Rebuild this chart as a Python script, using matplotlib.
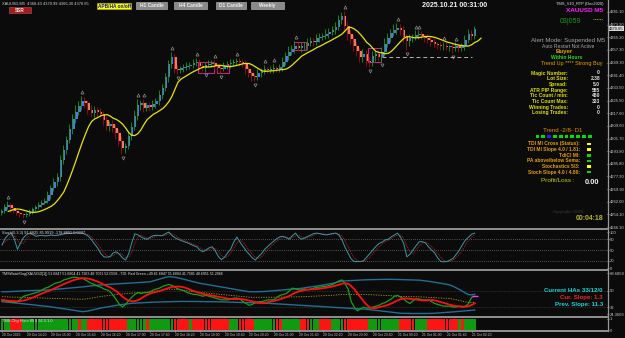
import numpy as np
import pandas as pd
import matplotlib
matplotlib.use("Agg")
import matplotlib.pyplot as plt
from matplotlib.patches import Rectangle
from matplotlib.lines import Line2D

plt.rcParams["font.family"] = ["Liberation Sans", "DejaVu Sans"]

W, H = 625, 338
BG = "#0b0b0b"
AXC = "#9a9a9a"

# ── data (XAUUSD M5) ────────────────────────────────────────────────────────
first_open = 4255.2
closes = [
    4256.0, 4258.5, 4260.2, 4257.8, 4256.5, 4255.0, 4254.2, 4253.6, 4254.5, 4255.8,
    4257.2, 4258.9, 4260.1, 4261.5, 4262.8, 4266.0, 4270.5, 4274.2, 4277.8, 4288.0,
    4294.5, 4301.0, 4307.5, 4314.0, 4318.5, 4322.0, 4325.5, 4324.0, 4319.5, 4318.0,
    4319.8, 4318.5, 4317.0, 4313.0, 4309.5, 4311.0, 4308.0, 4305.0, 4300.0, 4295.5,
    4297.0, 4303.5, 4309.0, 4316.0, 4322.5, 4324.0, 4321.0, 4322.8, 4321.5, 4323.5,
    4325.0, 4329.0, 4333.5, 4340.0, 4348.5, 4353.0, 4345.5, 4344.5, 4345.8, 4346.5,
    4347.5, 4348.0, 4348.8, 4349.5, 4347.5, 4346.2, 4347.8, 4348.5, 4349.2, 4347.0,
    4346.0, 4345.5, 4347.0, 4348.2, 4349.0, 4349.8, 4350.5, 4349.5, 4348.5, 4345.0,
    4342.5, 4341.0, 4340.2, 4342.5, 4344.0, 4345.0, 4344.5, 4345.5, 4346.0, 4345.5,
    4346.5, 4350.0, 4353.5, 4356.0, 4358.0, 4360.0, 4358.5, 4359.5, 4360.0, 4361.5,
    4363.0, 4362.5, 4364.5, 4365.5, 4366.0, 4367.5, 4368.5, 4370.0, 4371.5, 4376.0,
    4378.5, 4372.0, 4367.0, 4364.0, 4360.0, 4356.5, 4353.0, 4355.0, 4350.5, 4349.5,
    4353.5, 4354.5, 4353.0, 4356.0, 4361.0, 4365.0, 4368.0, 4370.0, 4371.0, 4369.5,
    4365.5, 4363.0, 4364.5, 4365.5, 4366.5, 4367.0, 4366.0, 4365.0, 4363.5, 4362.5,
    4361.0, 4360.5, 4359.5, 4360.0, 4359.0, 4359.0, 4358.5, 4359.5, 4358.5, 4359.8,
    4363.5, 4367.0, 4366.0, 4370.65,
]
wick_up = [
    1.5, 2.0, 2.5, 1.2, 1.0, 1.2, 1.5, 1.0, 1.3, 1.8,
    1.5, 1.2, 2.0, 1.5, 1.8, 2.5, 2.0, 3.0, 2.2, 3.5,
    3.0, 2.5, 3.5, 2.8, 4.0, 3.0, 2.9, 2.5, 2.0, 3.0,
    2.2, 1.8, 2.5, 2.0, 3.0, 1.5, 2.5, 2.0, 2.5, 3.0,
    2.0, 2.5, 3.0, 3.5, 4.0, 2.0, 2.5, 1.5, 2.0, 2.5,
    2.0, 3.0, 2.5, 3.0, 2.5, 3.0, 2.0, 2.5, 1.5, 2.0,
    2.0, 1.5, 2.5, 3.0, 2.0, 1.5, 2.0, 2.5, 1.5, 2.0,
    1.5, 2.0, 2.5, 2.0, 2.5, 1.5, 2.0, 1.5, 2.0, 2.5,
    2.0, 1.5, 2.0, 2.5, 2.0, 3.0, 1.5, 2.0, 2.5, 1.5,
    2.0, 3.0, 2.5, 3.5, 2.5, 3.0, 2.0, 2.5, 2.0, 3.0,
    2.5, 2.0, 3.0, 2.5, 2.0, 3.0, 2.5, 2.0, 3.0, 3.0,
    2.6, 3.0, 3.5, 2.5, 3.0, 2.5, 2.0, 3.0, 2.0, 2.5,
    3.0, 2.0, 2.5, 3.0, 3.5, 3.0, 2.5, 3.5, 3.0, 2.5,
    3.0, 2.0, 2.5, 2.0, 3.0, 2.5, 2.0, 1.5, 2.0, 2.5,
    2.0, 1.5, 2.0, 2.5, 2.0, 1.5, 2.0, 2.5, 1.5, 2.0,
    3.0, 3.5, 2.5, 1.5,
]
wick_dn = [
    1.5, 1.0, 1.2, 2.0, 1.5, 1.2, 1.5, 2.0, 1.0, 1.2,
    1.5, 1.0, 1.2, 1.5, 1.0, 1.5, 2.0, 1.5, 2.0, 2.5,
    2.0, 2.5, 2.0, 3.0, 2.5, 2.0, 2.5, 3.0, 2.5, 2.0,
    2.5, 3.0, 2.0, 3.0, 2.5, 3.0, 2.0, 3.5, 3.0, 3.5,
    3.1, 2.0, 2.5, 2.0, 2.5, 3.0, 2.5, 2.0, 2.5, 2.0,
    2.5, 2.0, 2.5, 2.0, 3.0, 2.5, 3.0, 2.5, 2.0, 2.5,
    2.0, 2.5, 2.0, 1.5, 2.5, 2.0, 2.5, 1.5, 2.0, 2.5,
    2.0, 2.5, 1.5, 2.0, 2.5, 1.5, 2.0, 2.5, 2.0, 3.0,
    2.5, 3.0, 2.5, 2.0, 2.5, 2.0, 1.5, 2.0, 2.5, 2.0,
    2.0, 2.5, 2.0, 2.5, 2.0, 2.5, 2.0, 2.5, 2.0, 2.5,
    2.0, 2.5, 2.0, 2.5, 2.0, 2.0, 2.5, 2.0, 2.5, 2.0,
    2.5, 3.0, 3.5, 3.0, 3.5, 3.0, 3.5, 3.0, 3.0, 2.9,
    2.5, 3.0, 2.5, 3.0, 2.5, 2.0, 2.5, 2.0, 2.5, 3.0,
    3.5, 6.0, 3.0, 2.5, 2.0, 2.5, 2.0, 2.5, 2.0, 2.5,
    2.0, 2.5, 2.0, 2.5, 2.0, 2.5, 3.0, 2.0, 2.5, 2.0,
    2.5, 2.0, 2.5, 2.0,
]
stoch_k = [
    64, 82, 92, 97, 80, 52, 70, 85, 93, 97,
    93, 88, 90, 91, 89, 90, 92, 90, 91, 93,
    95, 97, 96, 97, 98, 97, 97, 93, 88, 78,
    66, 55, 40, 31, 30, 32, 42, 45, 38, 28,
    22, 40, 70, 95, 92, 86, 82, 80, 86, 90,
    91, 90, 90, 96, 100, 90, 84, 80, 76, 73,
    70, 66, 62, 59, 50, 45, 50, 56, 59, 48,
    32, 23, 30, 42, 52, 72, 86, 72, 60, 48,
    38, 28, 22, 32, 40, 52, 60, 68, 75, 82,
    87, 88, 84, 80, 90, 97, 85, 80, 84, 88,
    92, 96, 97, 95, 93, 92, 94, 96, 97, 92,
    78, 58, 41, 25, 18, 18, 18, 20, 30, 40,
    50, 60, 68, 72, 78, 80, 87, 92, 97, 85,
    68, 31, 38, 50, 62, 73, 73, 70, 59, 50,
    42, 28, 18, 17, 18, 22, 27, 38, 50, 65,
    78, 86, 94, 97,
]
tdi_green = [
    40, 39, 38, 38, 37, 38, 41, 44, 45, 46,
    47, 48, 49, 51, 53, 54, 56, 58, 59, 60,
    62, 63, 64, 65, 65, 64, 64, 62, 60, 58,
    57, 55, 54, 52, 51, 49, 45, 40, 35, 32,
    35, 39, 43, 46, 48, 47, 48, 48, 49, 51,
    52, 53, 55, 56, 57, 56, 54, 52, 51, 50,
    48, 47, 46, 46, 45, 44, 45, 44, 43, 42,
    41, 40, 40, 40, 41, 42, 42, 41, 38, 36,
    34, 35, 37, 38, 38, 39, 40, 40, 40, 43,
    45, 46, 47, 50, 53, 52, 51, 51, 52, 51,
    52, 53, 54, 54, 55, 55, 56, 57, 59, 61,
    62, 58, 52, 38, 32, 28, 30, 32, 31, 31,
    32, 33, 34, 36, 37, 39, 41, 44, 45, 43,
    41, 38, 36, 39, 41, 41, 40, 40, 40, 38,
    36, 35, 34, 33, 33, 33, 32, 32, 33, 32,
    33, 36, 43, 44,
]
band_up = [
    49.0, 49.0, 49.0, 49.2, 49.4, 49.6, 49.8, 50.0, 50.1, 50.2, 50.3, 50.4, 50.5, 50.6, 50.8, 50.9,
    51.2, 51.5, 51.8, 52.1, 52.4, 52.7, 53.0, 53.3, 53.6, 54.0, 54.3, 54.7, 55.0, 55.4, 55.8, 56.2,
    56.5, 56.8, 57.0, 57.2, 57.5, 57.7, 57.9, 58.1, 58.3, 58.5, 58.7, 58.9, 59.1, 59.3, 59.5, 59.7, 60.0,
    61.0, 62.0, 63.0, 64.0, 65.0, 65.6,
    65.4, 65.0, 64.3, 63.5, 62.6, 61.7, 60.8, 60.0, 59.2, 58.3,
    57.8, 57.2, 56.6, 56.0, 55.4, 54.8, 54.2, 53.6, 53.0, 52.4, 51.8, 51.2, 50.6, 50.0, 49.5, 49.0,
    48.9, 48.9, 49.0, 49.1, 49.3, 49.5, 49.8, 50.1, 50.4, 50.7, 50.9,
    51.3, 51.6, 52.0, 52.3, 52.6, 52.8,
    53.3, 53.8, 54.3, 54.8, 55.3, 55.8, 56.4, 57.0, 57.6, 58.3, 59.0, 59.8, 60.8,
    61.0, 61.2, 61.4, 61.6, 61.8, 62.0, 62.1, 62.2, 62.3, 62.4, 62.5, 62.6, 62.7, 62.7,
    62.7, 62.6, 62.6, 62.5, 62.4, 62.3, 62.2, 62.1, 62.0, 62.0, 61.8,
    61.4, 61.0, 60.5, 60.0, 59.5, 59.0, 58.4, 57.8, 57.1, 56.4,
    55.0, 53.3, 51.5, 49.5, 47.5, 45.8, 45.6, 46.2,
]
band_dn = [
    38.0, 37.7, 37.4, 37.0, 36.7, 36.3, 36.0, 35.6, 35.3, 34.9, 34.5, 34.2, 33.8, 33.4, 33.0, 32.7,
    32.2, 31.7, 31.2, 30.7, 30.2, 29.6, 29.1, 28.6, 28.0, 27.5, 27.0,
    27.3, 27.8, 28.6, 29.5, 30.3,
    31.0, 31.6, 32.2, 32.8, 33.4, 34.0, 34.5, 35.0, 35.4, 35.8, 36.2,
    36.4, 36.6, 36.8, 37.0, 37.2, 37.4, 37.5, 37.6, 37.7, 37.8, 38.0,
    38.1, 38.2, 38.2, 38.3, 38.3, 38.3, 38.3, 38.2, 38.2, 38.2, 38.1, 38.1, 38.0, 38.0, 38.0, 38.0,
    37.9, 37.8, 37.7, 37.6, 37.5, 37.4, 37.3, 37.2, 37.1, 37.0, 36.9, 36.8, 36.7, 36.6, 36.5, 36.3, 36.2,
    36.0, 35.8, 35.6, 35.4, 35.2, 35.0, 34.8, 34.6, 34.4, 34.3,
    34.1, 33.9, 33.6, 33.4, 33.2, 33.0, 32.7, 32.5, 32.3, 32.0, 31.8,
    31.6, 31.4, 31.2, 31.0, 30.8, 30.6, 30.4, 30.2, 30.0, 29.8, 29.6,
    29.2, 28.8, 28.4, 28.0, 27.6, 27.2, 26.8, 26.4, 26.0, 25.6, 25.2,
    25.1, 25.0, 25.0, 24.9, 24.9, 24.9, 24.9, 25.0, 25.0, 25.1, 25.2,
    25.5, 25.7, 26.0, 26.2, 26.5, 26.7, 27.0,
    27.3, 27.6, 27.9, 28.2, 28.5, 28.8,
]
# histogram colour runs: (colour, number of bars)
histo_runs = [("g", 3), ("r", 4), ("g", 18), ("r", 1), ("g", 2), ("r", 13), ("g", 6),
              ("r", 1), ("g", 8), ("r", 5), ("g", 1), ("r", 12), ("g", 3), ("r", 5),
              ("g", 7), ("r", 2), ("g", 6), ("r", 3), ("g", 3), ("r", 4), ("g", 4),
              ("r", 8), ("g", 10), ("r", 5), ("g", 4), ("r", 10), ("g", 1), ("r", 1),
              ("g", 4)]
# magenta boxes: (first bar, last bar, low, high)
boxes = [(64, 68, 4342.8, 4349.7), (70, 73, 4342.8, 4347.8),
         (95, 98, 4357.2, 4362.2), (119, 122, 4350.0, 4358.5)]
dash_level = (123, 152, 4352.6)

time_labels = ["20 Oct 2025", "20 Oct 14:20", "20 Oct 15:00", "20 Oct 15:40", "20 Oct 16:20",
               "20 Oct 17:00", "20 Oct 17:40", "20 Oct 18:20", "20 Oct 19:00", "20 Oct 19:40",
               "20 Oct 20:20", "20 Oct 21:00", "20 Oct 21:40", "20 Oct 22:20", "20 Oct 23:00",
               "20 Oct 23:40", "21 Oct 00:20", "21 Oct 01:00", "21 Oct 01:40", "21 Oct 02:20"]
bars_per_label = 8
price_ticks = [4381.10, 4373.20, 4365.20, 4357.30, 4349.30, 4341.40, 4333.50, 4325.50,
               4317.60, 4309.60, 4301.70, 4293.80, 4285.80, 4277.90, 4269.90, 4262.00,
               4254.10, 4246.10]
stoch_ticks = [100, 80, 50, 20, 0]
tms_ticks = [69.6858, 50, 32, 24.3603]
tms_tick_labels = ["69.6858", "50", "32", "24.3603"]

info_labels = ["Magic Number:", "Lot Size:", "Spread:", "ATR PIP Range:", "Tic Count / min:",
               "Tic Count Max:", "Winning Trades:", "Losing Trades:"]
info_values = ["0", "2.38", "5.0", "555", "450", "333", "0", "0"]
trend_squares = ["#00dd00", "#00dd00", "#2222ff", "#00dd00", "#00dd00",
                 "#00dd00", "#00dd00", "#00dd00", "#00dd00", "#00dd00"]
status_labels = ["TDI MI Cross (Status):", "TDI MI Slope 4.0 / 1.81:", "TdiCl MI:",
                 "PA above/below Sema:", "Stochastics 5/3:", "Stoch Slope 4.0 / 4.80:"]
status_colors = ["#ffff00", "#ffff00", "#00dd00", "#00dd00", "#ffff00", "#00dd00"]

N = len(closes)
for arr in (wick_up, wick_dn, stoch_k, tdi_green, band_up, band_dn):
    assert len(arr) == N, len(arr)

# ── derived series ──────────────────────────────────────────────────────────
x = np.arange(N)
c = np.array(closes)
o = np.r_[first_open, c[:-1]]
hi = np.maximum(o, c) + np.array(wick_up)
lo = np.minimum(o, c) - np.array(wick_dn)
up = c >= o
ema = pd.Series(c).ewm(span=8, adjust=False).mean().values
stoch_d = pd.Series(stoch_k).rolling(3, min_periods=1).mean().values
tdi_red = pd.Series(tdi_green).rolling(7, min_periods=1).mean().values
mid = (np.array(band_up) + np.array(band_dn)) / 2
histo_cols = []
for col, n in histo_runs:
    histo_cols += ["#109a10" if col == "g" else "#ff1414"] * n

# ── figure ──────────────────────────────────────────────────────────────────
fig = plt.figure(figsize=(W / 100, H / 100), dpi=100, facecolor=BG)
XR = 607
XLIM = (-0.65, (XR - 2) / 3.08 - 0.65)


def px_axes(y0, y1):
    ax = fig.add_axes([0, 1 - y1 / H, XR / W, (y1 - y0) / H])
    ax.set_facecolor(BG)
    for s in ax.spines.values():
        s.set_visible(False)
    ax.set_xlim(*XLIM)
    ax.yaxis.tick_right()
    ax.tick_params(axis="y", colors="#c8c8c8", labelsize=3, length=1.5, width=0.5, pad=0.8)
    ax.tick_params(axis="x", bottom=False, labelbottom=False)
    return ax


def ftext(xp, yp, s, **kw):
    kw.setdefault("va", "center")
    fig.text(xp / W, 1 - yp / H, s, **kw)


# main price panel
ax = px_axes(0, 228)
ax.set_ylim(4245.55, 4388.6)
ax.set_yticks(price_ticks)
ax.set_yticklabels([f"{p:.2f}" for p in price_ticks])
ax.vlines(x - 0.35, lo, hi, colors=np.where(up, "#1a9a1a", "#a01010"), lw=0.6)
body = np.maximum(np.abs(c - o), 0.5)
ax.bar(x + 0.08, body, bottom=np.minimum(o, c), width=0.78,
       color=np.where(up, "#4a7ae6", "#f5785a"), linewidth=0)
ax.plot(x + 2, ema, color="#e6e600", lw=0.9)
for i in range(2, N - 2):
    if hi[i] == hi[i - 2:i + 3].max():
        ax.plot(i, hi[i] + 2.4, marker="^", ms=2.2, mfc="none", mec="#8c8c8c", mew=0.5)
    if lo[i] == lo[i - 2:i + 3].min():
        ax.plot(i, lo[i] - 2.4, marker="v", ms=2.2, mfc="none", mec="#8c8c8c", mew=0.5)
for b0, b1, l, h in boxes:
    ax.add_patch(Rectangle((b0 - 0.5, l), b1 - b0 + 1, h - l, fill=False,
                           ec="#d81c8c", lw=0.7))
ax.hlines(dash_level[2], dash_level[0], dash_level[1], colors="#b4b4b4",
          lw=0.7, linestyles=(0, (4, 3)))
ax.text(1.003, c[-1], f"{c[-1]:.2f}", transform=ax.get_yaxis_transform(),
        fontsize=3, color="#000000", va="center", ha="left",
        bbox=dict(boxstyle="square,pad=0.15", fc="#d8d8d8", ec="none"))

# stochastic panel
ax_s = px_axes(230, 268)
ax_s.set_ylim(0, 105.6)
ax_s.set_yticks(stoch_ticks)
ax_s.set_yticklabels([str(v) for v in stoch_ticks])
for lvl in (80, 50, 20):
    ax_s.axhline(lvl, color="#9a9a9a", lw=0.5, ls=(0, (1, 2)))
ax_s.plot(x, stoch_d, color="#b02020", lw=0.6, ls=(0, (1.5, 1)))
ax_s.plot(x, stoch_k, color="#3a98a8", lw=0.7)
ax_s.text(0.003, 0.92, "Stoch(5,3,3) 91.6825 85.9919 -178.8891 0.0337",
          transform=ax_s.transAxes, fontsize=2.8, color="#e0e0e0", va="center")

# TDI panel
ax_t = px_axes(271, 316)
ax_t.set_ylim(22.17, 71.9)
ax_t.set_yticks(tms_ticks)
ax_t.set_yticklabels(tms_tick_labels)
for lvl in (50, 32):
    ax_t.axhline(lvl, color="#6a6a6a", lw=0.4, ls=(0, (1, 2)))
ax_t.plot(x, band_up, color="#1f6f96", lw=1.0)
ax_t.plot(x, band_dn, color="#1f6f96", lw=1.0)
ax_t.plot(x, mid, color="#a89a20", lw=0.6, ls=(0, (1.5, 1.5)))
ax_t.plot(x, tdi_green, color="#18a018", lw=0.9)
ax_t.plot(x, tdi_red, color="#ff1010", lw=1.3)
ax_t.hlines(44.5, N - 2, N, colors="#ff30ff", lw=1.0)
ax_t.text(0.003, 0.93, "TMSWatchDog(XAUUSD[1]) 51.6847 51.6804 41.7263 48.7031 52.0558 - "
          "TDI: Red Green +49.61 6847 51.6804 41.7581 48.6951 51.2066",
          transform=ax_t.transAxes, fontsize=2.6, color="#e0e0e0", va="center")

# histogram panel
ax_b = px_axes(318, 330)
ax_b.set_ylim(0, 1.08)
ax_b.bar(x, np.ones(N), width=0.92, color=histo_cols, linewidth=0)
ax_b.set_yticks([1, 0])
ax_b.set_yticklabels(["1", "0"])
ax_b.text(0.003, 0.72, "TMS-Chg Histo 89.9 92.3 1.0", transform=ax_b.transAxes,
          fontsize=2.8, color="#f0f0f0", va="center")
label_bars = np.arange(len(time_labels)) * bars_per_label
ax_b.set_xticks(label_bars)
ax_b.set_xticklabels(time_labels, ha="left")
ax_b.tick_params(axis="x", bottom=True, labelbottom=True, colors="#c8c8c8",
                 labelsize=2.4, length=1.5, width=0.5, pad=0.6)

# panel separators
for yp in (228.8, 269.5, 316.9, 330.6):
    fig.add_artist(Line2D([0, XR / W], [1 - yp / H] * 2, color=AXC, lw=1.3,
                          transform=fig.transFigure))
fig.add_artist(Line2D([(XR + 0.5) / W] * 2, [1 - 331 / H, 1], color=AXC, lw=0.9,
                      transform=fig.transFigure))

# ── chart-window overlays ───────────────────────────────────────────────────
ftext(2, 4, "XAUUSD,M5  4368.43 4370.99 4366.30 4370.65", fontsize=2.9, color="#d0d0d0")


def button(x0, x1, y0, y1, label, fc, tc, ec="#c0c0c0"):
    fig.add_artist(Rectangle((x0 / W, 1 - y1 / H), (x1 - x0) / W, (y1 - y0) / H,
                             transform=fig.transFigure, fc=fc, ec=ec, lw=0.4))
    ftext((x0 + x1) / 2, (y0 + y1) / 2 + 0.2, label, fontsize=3.4, color=tc,
          ha="center", weight="bold")


button(9, 31, 7, 13, "SSR", "#b41414", "#f0f0f0", ec="#707070")
button(97, 131, 3, 9, "APB/HA on/off", "#ffff00", "#1414a0", ec="#c0c000")
button(136, 167, 2.5, 9, "H1 Candle", "#8a8a8a", "#f0f0f0")
button(174, 207, 2.5, 9, "H4 Candle", "#8a8a8a", "#f0f0f0")
button(216, 246, 2.5, 9, "D1 Candle", "#8a8a8a", "#f0f0f0")
button(251, 284, 2.5, 9, "Weekly", "#8a8a8a", "#f0f0f0")

ftext(455, 5.5, "2025.10.21 00:31:00", fontsize=5, color="#f4f4f4", ha="center", weight="bold")
ftext(603, 4, "TMS_V10_RTP (Dec2020)", fontsize=2.9, color="#e0e0e0", ha="right")
ftext(603, 11, "XAUUSD M5", fontsize=4.6, color="#ff1cff", ha="right", weight="bold")
ftext(570, 21.5, "03|059", fontsize=5, color="#1c9a1c", ha="center")
fig.add_artist(Line2D([593 / W, 603 / W], [1 - 19 / H] * 2, color="#d8c800", lw=0.6,
                      ls=(0, (1, 1)), transform=fig.transFigure))

ftext(568, 40.5, "Alert Mode: Suspended M5", fontsize=4.4, color="#a4a4a4", ha="center")
ftext(568, 46, "Auto Restart Not Active", fontsize=3.6, color="#a4a4a4", ha="center")
ftext(564, 52, "Buyer", fontsize=4.4, color="#e8a000", ha="center", weight="bold")
ftext(567, 57.5, "Within Hours", fontsize=3.6, color="#22dd22", ha="center", weight="bold")
ftext(572, 63.5, "Trend Up **** Strong Buy", fontsize=4.0, color="#e8a000", ha="center")
for k, (lab, val) in enumerate(zip(info_labels, info_values)):
    yp = 73 + k * 5.7
    ftext(568, yp, lab, fontsize=3.6, color="#e0e000", ha="right", weight="bold")
    ftext(600, yp, val, fontsize=3.6, color="#e0e0e0", ha="right", weight="bold")

ftext(563, 130, "Trend -2/8- D1", fontsize=4.4, color="#e88a00", ha="center")
for k, col in enumerate(trend_squares):
    xp = 535.5 + k * 5.8
    fig.add_artist(Rectangle((xp / W, 1 - 137.5 / H), 3.8 / W, 2.2 / H,
                             transform=fig.transFigure, fc=col, ec="none"))
for k, (lab, col) in enumerate(zip(status_labels, status_colors)):
    yp = 144 + k * 5.65
    ftext(580, yp, lab, fontsize=3.5, color="#e8a000", ha="right", weight="bold")
    fig.add_artist(Rectangle((587 / W, 1 - (yp + 1.2) / H), 4.2 / W, 2.4 / H,
                             transform=fig.transFigure, fc=col, ec="none"))
ftext(541, 181, "Profit/Loss :", fontsize=4.6, color="#c8d400", ha="left")
ftext(599, 182.5, "0.00", fontsize=5.4, color="#f0f0f0", ha="right", weight="bold")
ftext(584, 212.5, "Copyright©2020", fontsize=3.2, color="#3a3a3a", ha="right")
ftext(603, 219, "00:04:18", fontsize=5, color="#b8b830", ha="right", weight="bold")

ftext(603, 291, "Current HAs 33/12/0", fontsize=4.4, color="#10d8d8", ha="right", weight="bold")
ftext(603, 297.5, "Cur. Slope: 1.3", fontsize=4.4, color="#ff2020", ha="right", weight="bold")
ftext(603, 304.5, "Prev. Slope: 11.3", fontsize=4.4, color="#10d8d8", ha="right", weight="bold")

fig.savefig("out.png", dpi=100, facecolor=BG)
